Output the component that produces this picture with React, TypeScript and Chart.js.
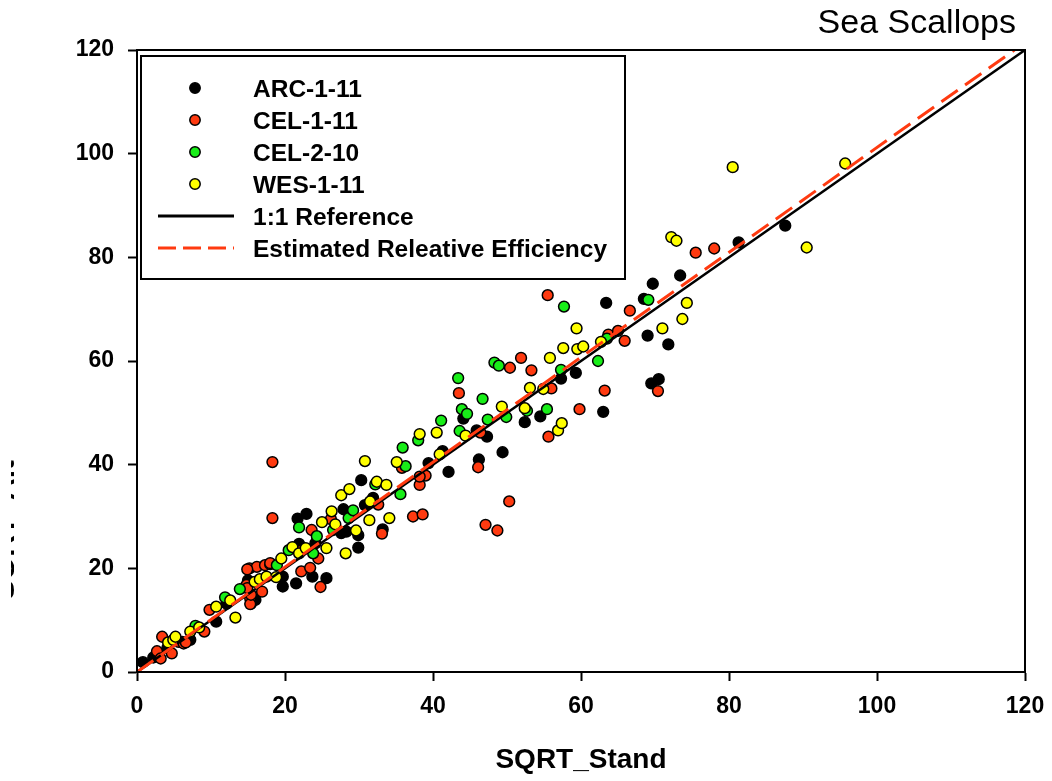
import React, { useEffect, useRef } from 'react';
import { Chart, registerables } from 'chart.js';

Chart.register(...registerables);

// ---------- data ----------
const chartTitle = 'Sea Scallops';
const xAxisTitle = 'SQRT_Stand';
const yAxisTitle = 'SQRT_Alt';
const axisMin = 0;
const axisMax = 120;
const tickStep = 20;
const tickValues = [0, 20, 40, 60, 80, 100, 120];

const seriesLabels = ['ARC-1-11', 'CEL-1-11', 'CEL-2-10', 'WES-1-11'];
const lineLabels = ['1:1 Reference', 'Estimated Releative Efficiency'];

const arcPoints: [number, number][] = [
  [0.8, 1.9], [2.2, 2.8], [4.1, 4.6], [6.1, 5.8], [7.2, 6.2], [10.7, 9.7], [12.1, 13.2], [16.0, 13.9],
  [15.0, 17.2], [15.0, 17.7], [19.7, 18.4], [19.7, 16.5], [21.5, 17.1], [23.7, 18.4], [25.6, 18.1],
  [21.9, 24.7], [24.1, 24.8], [29.9, 24.0], [29.9, 26.4], [27.6, 26.8], [28.3, 27.1], [33.2, 27.5],
  [21.7, 29.6], [22.9, 30.5], [27.9, 31.4], [30.8, 32.2], [31.9, 33.6], [30.3, 37.0], [39.4, 40.3],
  [42.1, 38.6], [41.3, 42.6], [46.2, 41.0], [49.4, 42.4], [45.9, 46.6], [47.3, 45.4], [44.1, 48.9],
  [52.4, 48.2], [54.5, 49.3], [63.0, 50.2], [57.3, 56.6], [59.3, 57.7], [69.5, 55.7], [70.5, 56.5],
  [71.8, 63.2], [69.0, 64.9], [63.4, 71.2], [68.5, 72.0], [69.7, 74.9], [73.4, 76.5], [81.3, 82.9],
  [87.6, 86.1],
];

const cel1Points: [number, number][] = [
  [2.7, 4.0], [3.4, 6.8], [3.2, 2.6], [4.7, 3.6], [5.6, 5.8], [6.3, 5.5], [6.6, 5.7], [9.1, 7.8],
  [9.8, 12.0], [15.4, 13.2], [15.3, 14.2], [15.3, 13.1], [15.4, 14.9], [14.8, 16.8], [14.9, 16.2],
  [16.9, 15.5], [15.2, 20.0], [16.2, 20.3], [14.9, 19.8], [17.3, 20.6], [18.0, 20.8], [18.0, 21.0],
  [22.2, 19.4], [23.4, 20.1], [24.8, 16.4], [24.5, 21.9], [22.0, 23.3], [23.6, 27.4], [26.2, 29.5],
  [18.3, 29.7], [18.3, 40.5], [32.6, 32.3], [33.1, 26.7], [35.8, 39.4], [39.0, 37.9], [38.2, 36.1],
  [38.2, 37.7], [37.3, 30.0], [38.6, 30.4], [43.5, 53.8], [46.4, 46.2], [46.1, 39.5], [47.1, 28.4],
  [48.7, 27.3], [50.3, 32.9], [50.4, 58.7], [51.9, 60.6], [53.3, 58.2], [55.5, 72.7], [56.0, 54.7],
  [55.6, 45.4], [59.8, 50.7], [63.2, 54.3], [70.4, 54.2], [63.7, 65.1], [65.0, 65.8], [65.9, 63.9],
  [66.6, 69.7], [75.5, 80.9], [78.0, 81.7],
];

const cel2Points: [number, number][] = [
  [7.9, 8.9], [11.9, 14.4], [13.9, 16.0], [18.9, 20.6], [20.5, 23.5], [23.8, 22.9], [21.9, 27.9],
  [24.3, 26.2], [26.5, 27.4], [28.6, 29.7], [29.2, 31.2], [32.2, 36.2], [35.6, 34.3], [35.9, 43.3],
  [36.3, 39.7], [38.0, 44.7], [41.1, 48.5], [43.4, 56.7], [43.6, 46.5], [43.9, 50.7], [44.6, 49.8],
  [46.7, 52.7], [47.4, 48.7], [48.3, 59.7], [48.9, 59.1], [49.9, 49.2], [52.7, 50.4], [55.4, 50.7],
  [57.3, 58.3], [57.7, 70.5], [62.3, 60.0], [63.5, 64.3], [69.1, 71.8],
];

const wesPoints: [number, number][] = [
  [4.2, 5.7], [4.9, 6.2], [5.2, 6.8], [7.2, 7.8], [8.4, 8.6], [10.7, 12.6], [12.6, 13.8], [13.3, 10.5],
  [15.9, 17.4], [16.6, 17.9], [17.5, 18.4], [18.8, 18.3], [19.5, 21.9], [21.0, 24.1], [21.9, 22.9],
  [22.8, 23.9], [25.6, 23.9], [25.0, 28.9], [26.8, 28.5], [26.3, 31.0], [27.6, 34.1], [28.7, 35.3],
  [28.2, 22.9], [29.6, 27.3], [31.4, 29.3], [31.5, 32.9], [30.8, 40.7], [32.4, 36.7], [33.7, 36.1],
  [34.1, 29.7], [35.1, 40.5], [38.2, 45.9], [40.5, 46.2], [40.9, 42.0], [44.4, 45.6], [49.3, 51.2],
  [52.4, 50.9], [53.1, 54.8], [54.9, 54.6], [55.8, 60.6], [56.9, 46.6], [57.4, 48.0], [57.6, 62.5],
  [59.5, 62.3], [60.3, 62.8], [59.4, 66.3], [62.7, 63.7], [71.0, 66.3], [73.7, 68.1], [74.3, 71.2],
  [72.2, 83.9], [72.9, 83.2], [80.5, 97.4], [95.7, 98.1], [90.5, 81.9],
];

// 1:1 reference line and fitted relative-efficiency line (through the origin)
const referenceLine: [number, number][] = [[0, 0], [120, 120]];
const fitSlope = 1.012;
const fitLine: [number, number][] = [[0, 0], [120 / fitSlope, 120]];

// ---------- styles ----------
const FONT = "'Liberation Sans', Arial, sans-serif";
const seriesColors = ['#000000', '#ff3a10', '#18ee18', '#ffff00'];
const fitColor = '#ff3a10';

const toXY = (arr: [number, number][]) => arr.map(([x, y]) => ({ x, y }));

export default function App() {
  const canvasRef = useRef<HTMLCanvasElement | null>(null);

  useEffect(() => {
    if (!canvasRef.current) return;

    const scatter = (label: string, pts: [number, number][], color: string, order: number) => ({
      type: 'scatter' as const,
      label,
      data: toXY(pts),
      backgroundColor: color,
      borderColor: '#000000',
      borderWidth: 1.5,
      pointRadius: 5.4,
      pointHoverRadius: 5.4,
      order,
    });

    const framePlugin = {
      id: 'frame',
      afterDatasetsDraw(chart: any) {
        const { ctx, chartArea: a } = chart;
        ctx.save();
        ctx.strokeStyle = '#000';
        ctx.lineWidth = 2;
        ctx.strokeRect(a.left, a.top, a.right - a.left, a.bottom - a.top);
        ctx.restore();
      },
    };

    const textPlugin = {
      id: 'texts',
      afterDraw(chart: any) {
        const { ctx, chartArea: a } = chart;
        ctx.save();
        // title
        ctx.fillStyle = '#000';
        ctx.font = `34px ${FONT}`;
        ctx.textAlign = 'right';
        ctx.textBaseline = 'alphabetic';
        ctx.fillText(chartTitle, a.right - 9, 33);
        // x title
        ctx.font = `bold 28px ${FONT}`;
        ctx.textAlign = 'center';
        ctx.fillText(xAxisTitle, (a.left + a.right) / 2, 768);
        // y title, mostly cut off at the left edge as in the reference
        ctx.save();
        ctx.beginPath();
        ctx.rect(11, 0, 3, chart.height);
        ctx.clip();
        ctx.translate(13.5, 530);
        ctx.rotate(-Math.PI / 2);
        ctx.textAlign = 'center';
        ctx.textBaseline = 'alphabetic';
        ctx.font = `bold 30px ${FONT}`;
        ctx.fillText(yAxisTitle, 0, 0);
        ctx.restore();

        // legend
        const lx = a.left + 4;
        const ly = a.top + 6;
        const lw = 484;
        const lh = 223;
        ctx.fillStyle = '#fff';
        ctx.fillRect(lx, ly, lw, lh);
        ctx.strokeStyle = '#000';
        ctx.lineWidth = 2;
        ctx.strokeRect(lx, ly, lw, lh);
        ctx.font = `bold 24.5px ${FONT}`;
        ctx.textAlign = 'left';
        ctx.textBaseline = 'middle';
        const rowY = (i: number) => ly + 32 + i * 32;
        seriesLabels.forEach((lab, i) => {
          const y = rowY(i);
          ctx.beginPath();
          ctx.arc(lx + 54, y, 5.2, 0, Math.PI * 2);
          ctx.fillStyle = seriesColors[i];
          ctx.fill();
          ctx.lineWidth = 1.5;
          ctx.strokeStyle = '#000';
          ctx.stroke();
          ctx.fillStyle = '#000';
          ctx.fillText(lab, lx + 112, y + 2);
        });
        lineLabels.forEach((lab, j) => {
          const y = rowY(4 + j);
          ctx.beginPath();
          ctx.moveTo(lx + 17, y);
          ctx.lineTo(lx + 93, y);
          ctx.lineWidth = 3;
          ctx.strokeStyle = j === 0 ? '#000' : fitColor;
          ctx.setLineDash(j === 0 ? [] : [18, 7]);
          ctx.stroke();
          ctx.setLineDash([]);
          ctx.fillStyle = '#000';
          ctx.fillText(lab, lx + 112, y + 2);
        });
        ctx.restore();
      },
    };

    const axisCommon = {
      type: 'linear' as const,
      min: axisMin,
      max: axisMax,
      grid: {
        drawOnChartArea: false,
        drawTicks: true,
        tickLength: 9,
        tickWidth: 2,
        tickColor: '#000',
        color: '#000',
      },
      border: { display: true, color: '#000', width: 2 },
    };

    const chart = new Chart(canvasRef.current, {
      type: 'scatter',
      data: {
        datasets: [
          {
            type: 'line' as const,
            label: lineLabels[1],
            data: toXY(fitLine),
            borderColor: fitColor,
            borderWidth: 3,
            borderDash: [20, 9],
            pointRadius: 0,
            fill: false,
            order: 0,
          },
          {
            type: 'line' as const,
            label: lineLabels[0],
            data: toXY(referenceLine),
            borderColor: '#000',
            borderWidth: 2.5,
            pointRadius: 0,
            fill: false,
            order: 1,
          },
          scatter(seriesLabels[3], wesPoints, seriesColors[3], 2),
          scatter(seriesLabels[2], cel2Points, seriesColors[2], 3),
          scatter(seriesLabels[1], cel1Points, seriesColors[1], 4),
          scatter(seriesLabels[0], arcPoints, seriesColors[0], 5),
        ] as any,
      },
      options: {
        animation: false,
        responsive: false,
        devicePixelRatio: 1,
        layout: { padding: { top: 50, right: 27, left: 0, bottom: 0 } },
        plugins: { legend: { display: false }, tooltip: { enabled: false }, title: { display: false } },
        scales: {
          x: {
            ...axisCommon,
            position: 'bottom',
            afterFit: (s: any) => { s.height = 109; s.paddingLeft = 0; s.paddingRight = 0; },
            afterBuildTicks: (s: any) => { s.ticks = tickValues.map((v) => ({ value: v })); },
            ticks: {
              stepSize: tickStep,
              color: '#000',
              padding: 12,
              maxRotation: 0,
              font: { family: FONT, size: 23, weight: 'bold' },
            },
          },
          y: {
            ...axisCommon,
            position: 'left',
            afterFit: (s: any) => { s.width = 137; s.paddingTop = 0; s.paddingBottom = 0; },
            afterBuildTicks: (s: any) => { s.ticks = tickValues.map((v) => ({ value: v })); },
            ticks: {
              stepSize: tickStep,
              color: '#000',
              padding: 14,
              font: { family: FONT, size: 23, weight: 'bold' },
            },
          },
        },
      } as any,
      plugins: [framePlugin, textPlugin],
    });

    return () => chart.destroy();
  }, []);

  return (
    <div style={{ position: 'absolute', left: 0, top: 0, width: 1052, height: 781, background: '#fff' }}>
      <canvas ref={canvasRef} width={1052} height={781} style={{ display: 'block', width: 1052, height: 781 }} />
    </div>
  );
}
